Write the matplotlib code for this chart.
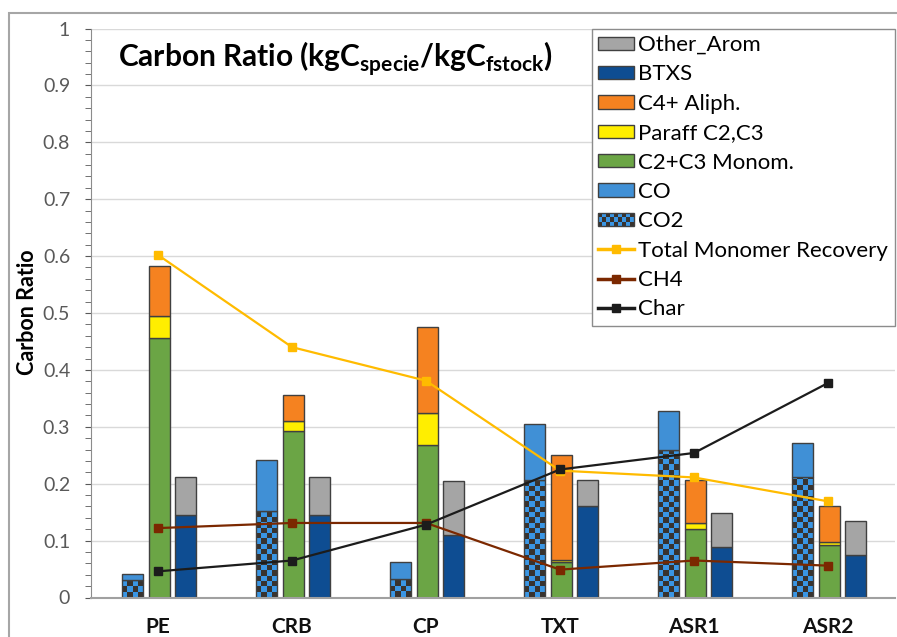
import numpy as np
import matplotlib
matplotlib.use("Agg")
import matplotlib.pyplot as plt
from matplotlib.patches import Rectangle, Patch
from matplotlib.lines import Line2D
from matplotlib.colors import ListedColormap
from matplotlib.legend_handler import HandlerBase
from matplotlib.ticker import MultipleLocator

# data
cats = ['PE', 'CRB', 'CP', 'TXT', 'ASR1', 'ASR2']
co2 = [0.031, 0.152, 0.032, 0.207, 0.260, 0.211]
co = [0.011, 0.089, 0.030, 0.098, 0.068, 0.060]
monom = [0.456, 0.292, 0.268, 0.062, 0.120, 0.092]
paraff = [0.038, 0.019, 0.057, 0.004, 0.011, 0.006]
c4 = [0.088, 0.045, 0.150, 0.184, 0.075, 0.063]
btxs = [0.145, 0.145, 0.110, 0.160, 0.088, 0.075]
other = [0.066, 0.066, 0.094, 0.047, 0.061, 0.060]
tmr = [0.602, 0.440, 0.381, 0.223, 0.211, 0.169]
ch4 = [0.122, 0.131, 0.131, 0.049, 0.065, 0.056]
char = [0.046, 0.065, 0.128, 0.225, 0.254, 0.377]

c_other = '#A5A5A5'
c_btxs = '#0E4D92'
c_c4 = '#F58220'
c_paraff = '#FFEE00'
c_monom = '#6BA545'
c_co = '#4090D6'
c_co2_a = '#3A96E4'
c_co2_b = '#38332F'
c_tmr = '#FFBB00'
c_ch4 = '#7B2800'
c_char = '#1C1C1C'
edge = '#404040'

plt.rcParams['font.family'] = ['Lato', 'DejaVu Sans']

W, H, DPI = 897, 637, 100
fig = plt.figure(figsize=(W / DPI, H / DPI), dpi=DPI)
ax_l, ax_r, ax_b, ax_t = 91, 895, 597.5, 28.5
ax = fig.add_axes([ax_l / W, (H - ax_b) / H, (ax_r - ax_l) / W, (ax_b - ax_t) / H])

# outer chart border (only top/left visible in the crop)
fig.patches.append(Rectangle((9 / W, -0.5), 2, (H - 13) / H + 0.5, transform=fig.transFigure,
                             facecolor='none', edgecolor='#A6A6A6', lw=1.5))

x = np.arange(len(cats))
bw = 0.159
off_l, off_m, off_r = -0.19, 0.012, 0.205

px_x = (ax_r - ax_l) / 6.0
px_y = (ax_b - ax_t) / 1.0
cell = 5.3
cx, cy = cell / px_x, cell / px_y
cmap = ListedColormap([c_co2_a, c_co2_b])

# left bars: CO2 (checker) + CO
for i in range(len(cats)):
    xl = x[i] + off_l - bw / 2
    base = Rectangle((xl, 0), bw, co2[i], facecolor=c_co2_a, edgecolor='none', zorder=2)
    ax.add_patch(base)
    nx = int(np.ceil(bw / cx))
    ny = int(np.ceil(co2[i] / cy))
    img = np.add.outer(np.arange(ny), np.arange(nx)) % 2
    im = ax.imshow(img, cmap=cmap, extent=(xl, xl + nx * cx, 0, ny * cy), origin='lower',
                   interpolation='nearest', aspect='auto', zorder=2.1)
    im.set_clip_path(base)
    ax.add_patch(Rectangle((xl, 0), bw, co2[i], facecolor='none', edgecolor=edge, lw=1, zorder=2.2))
ax.bar(x + off_l, co, bw, bottom=co2, color=c_co, edgecolor=edge, lw=1, zorder=2.2)

# middle bars
b1 = np.array(monom)
b2 = b1 + np.array(paraff)
ax.bar(x + off_m, monom, bw, color=c_monom, edgecolor=edge, lw=1, zorder=2.2)
ax.bar(x + off_m, paraff, bw, bottom=b1, color=c_paraff, edgecolor=edge, lw=1, zorder=2.2)
ax.bar(x + off_m, c4, bw, bottom=b2, color=c_c4, edgecolor=edge, lw=1, zorder=2.2)

# right bars
ax.bar(x + off_r, btxs, bw, color=c_btxs, edgecolor=edge, lw=1, zorder=2.2)
ax.bar(x + off_r, other, bw, bottom=btxs, color=c_other, edgecolor=edge, lw=1, zorder=2.2)

# lines
ax.plot(x, tmr, color=c_tmr, lw=1.6, marker='s', ms=6, zorder=4)
ax.plot(x, ch4, color=c_ch4, lw=1.6, marker='s', ms=5.5, mec=c_ch4, zorder=4)
ax.plot(x, char, color=c_char, lw=1.6, marker='s', ms=5.5, zorder=4)

ax.set_xlim(-0.5, 5.5)
ax.set_ylim(0, 1)
ax.set_xticks(x)
ax.set_xticklabels(cats, fontsize=15, fontweight='bold', color='#111111')
ax.tick_params(axis='x', length=0, pad=14)
ax.yaxis.set_major_locator(MultipleLocator(0.1))
ax.yaxis.set_minor_locator(MultipleLocator(0.02))
ax.set_yticks(np.arange(0, 1.01, 0.1))
ax.set_yticklabels(['0'] + ['%.1f' % v for v in np.arange(0.1, 0.95, 0.1)] + ['1'])
ax.tick_params(axis='y', which='both', direction='out', length=4, color='#595959',
               labelsize=14, labelcolor='#595959', pad=11)
ax.grid(axis='y', color='#D9D9D9', lw=1)
ax.set_axisbelow(True)
for s in ['top', 'right']:
    ax.spines[s].set_visible(False)
ax.spines['left'].set_color('#8C8C8C')
ax.spines['bottom'].set_color('#A0A0A0')
ax.spines['bottom'].set_linewidth(1.5)

fig.text(27 / W, (H - 312) / H, 'Carbon Ratio', rotation=90, fontsize=15.5, fontweight='bold',
         ha='center', va='center')
fig.text(118 / W, (H - 67) / H,
         r'Carbon Ratio (kgC$_{\mathregular{specie}}$/kgC$_{\mathregular{fstock}}$)',
         fontsize=21.5, fontweight='bold', ha='left', va='baseline')


class CheckerHandler(HandlerBase):
    def create_artists(self, legend, orig_handle, xdescent, ydescent, width, height, fontsize, trans):
        arts = [Rectangle((-xdescent, -ydescent), width, height, facecolor=c_co2_a,
                          edgecolor='none', transform=trans)]
        nx, ny = 9, 3
        cw, ch = width / nx, height / ny
        for i in range(nx):
            for j in range(ny):
                if (i + j) % 2 == 0:
                    arts.append(Rectangle((-xdescent + i * cw, -ydescent + j * ch), cw, ch,
                                          facecolor=c_co2_b, edgecolor='none', transform=trans))
        arts.append(Rectangle((-xdescent, -ydescent), width, height, facecolor='none',
                              edgecolor=edge, lw=1, transform=trans))
        return arts


co2_handle = Patch(facecolor=c_co2_a)
handles = [
    Patch(facecolor=c_other, edgecolor=edge, lw=1),
    Patch(facecolor=c_btxs, edgecolor=edge, lw=1),
    Patch(facecolor=c_c4, edgecolor=edge, lw=1),
    Patch(facecolor=c_paraff, edgecolor=edge, lw=1),
    Patch(facecolor=c_monom, edgecolor=edge, lw=1),
    Patch(facecolor=c_co, edgecolor=edge, lw=1),
    co2_handle,
    Line2D([], [], color=c_tmr, lw=2.5, marker='s', ms=6),
    Line2D([], [], color=c_ch4, lw=2.5, marker='s', ms=5.5),
    Line2D([], [], color=c_char, lw=2.5, marker='s', ms=5.5),
]
labels = ['Other_Arom', 'BTXS', 'C4+ Aliph.', 'Paraff C2,C3', 'C2+C3 Monom.', 'CO', 'CO2',
          'Total Monomer Recovery', 'CH4', 'Char']
leg = ax.legend(handles, labels, loc='upper right', bbox_to_anchor=(1.0, 1.0), borderaxespad=0,
                fontsize=16, handlelength=1.62, handleheight=0.54, handletextpad=0.18,
                labelspacing=0.42, borderpad=0.3, fancybox=False, framealpha=1,
                edgecolor='#8C8C8C', handler_map={co2_handle: CheckerHandler()})
leg.get_frame().set_linewidth(1)
leg.set_zorder(5)

fig.savefig('out.png', dpi=DPI)
